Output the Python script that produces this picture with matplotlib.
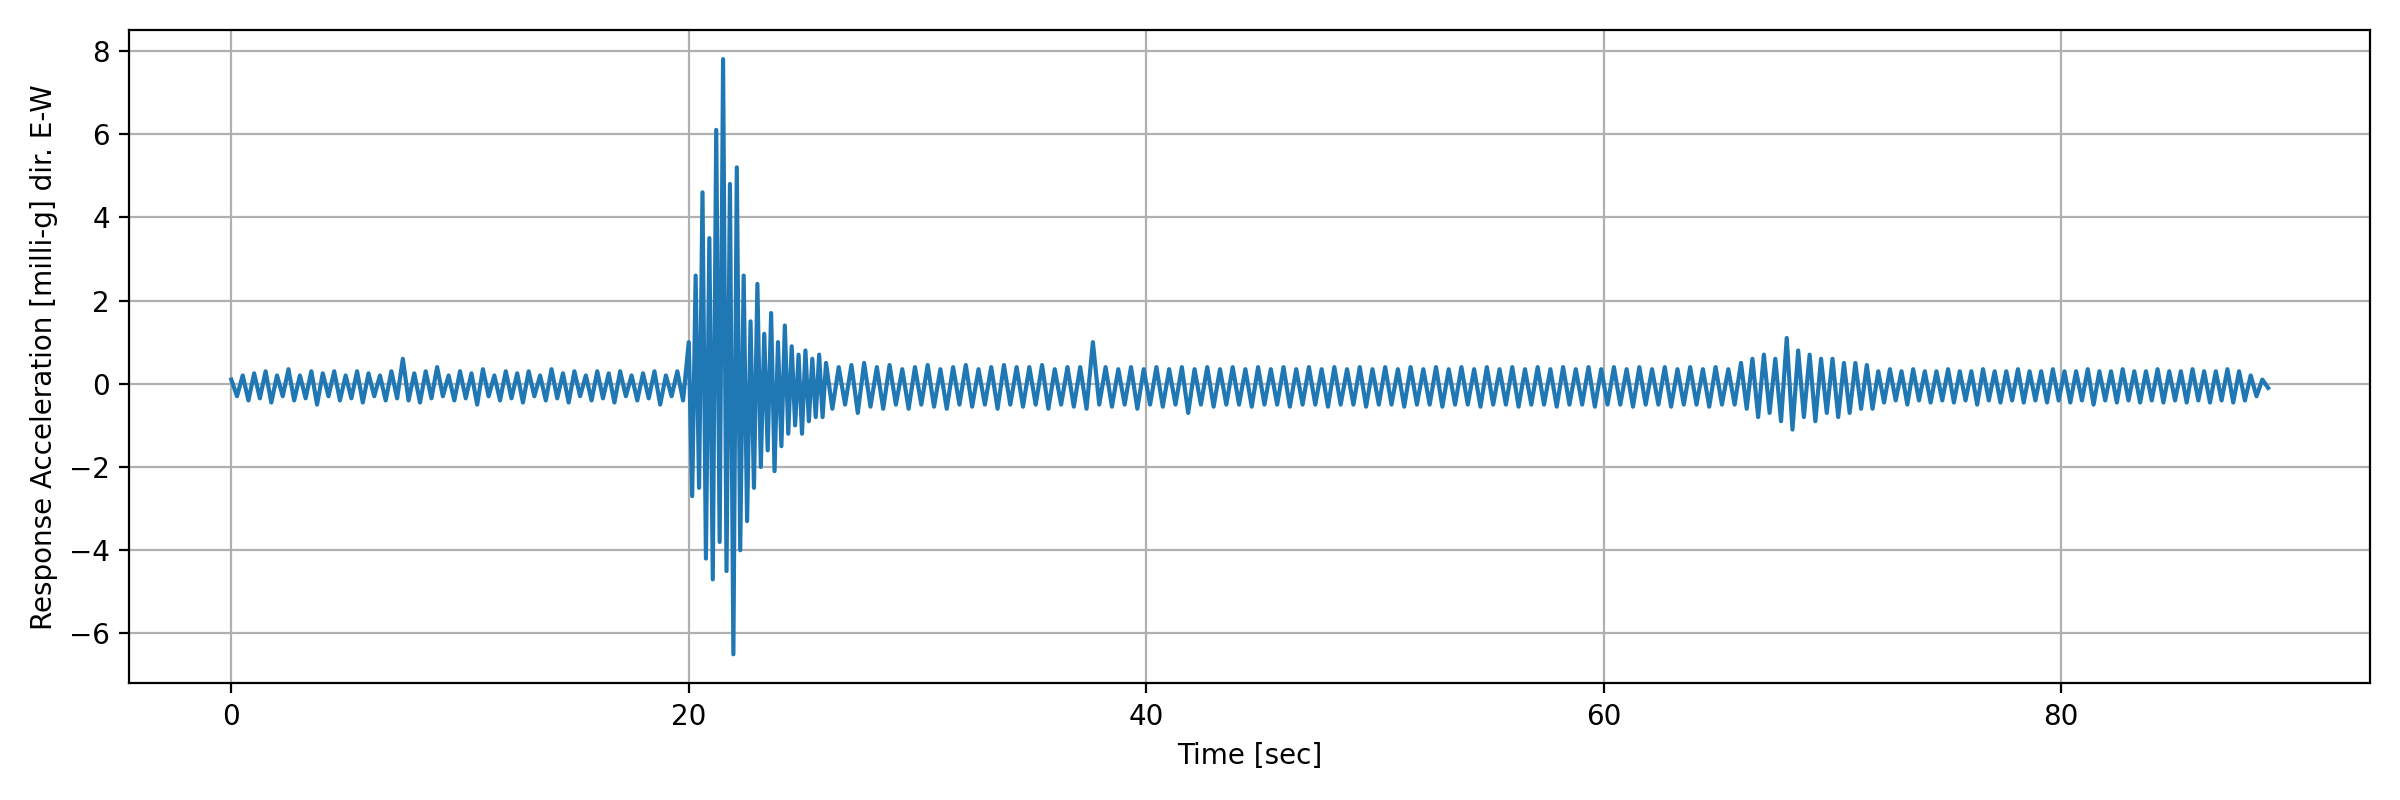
import numpy as np
import matplotlib
matplotlib.use("Agg")
import matplotlib.pyplot as plt

seg_quiet = [0.1,-0.3,0.2,-0.4,0.25,-0.35,0.3,-0.45,0.2,-0.3,
0.35,-0.4,0.2,-0.35,0.3,-0.5,0.25,-0.3,0.3,-0.4,
0.2,-0.35,0.3,-0.45,0.25,-0.3,0.2,-0.4,0.3,-0.35,
0.6,-0.4,0.25,-0.45,0.3,-0.35,0.4,-0.3,0.2,-0.4,
0.3,-0.35,0.25,-0.5,0.35,-0.3,0.2,-0.4,0.3,-0.35,
0.25,-0.45,0.3,-0.3,0.2,-0.4,0.35,-0.35,0.25,-0.45,
0.3,-0.3,0.2,-0.4,0.3,-0.35,0.25,-0.45,0.3,-0.3,
0.2,-0.4,0.25,-0.35,0.3,-0.5,0.2,-0.3,0.3,-0.4]
seg_quake = [1.0,-2.7,2.6,-2.5,4.6,-4.2,3.5,-4.7,6.1,-3.8,
7.8,-4.5,4.8,-6.5,5.2,-4.0,2.6,-3.3,1.5,-2.5,
2.4,-2.0,1.2,-1.6,1.7,-2.1,1.0,-1.5,1.4,-1.2,
0.9,-1.0,0.7,-1.2,0.8,-0.9,0.6,-0.8,0.7,-0.8]
seg_coda = [0.5,-0.6,0.4,-0.5,0.45,-0.7,0.5,-0.55,0.4,-0.6,
0.45,-0.5,0.35,-0.6,0.4,-0.5,0.45,-0.55,0.35,-0.6,
0.4,-0.5,0.45,-0.55,0.35,-0.5,0.4,-0.6,0.45,-0.5,
0.4,-0.55,0.4,-0.5,0.45,-0.6,0.35,-0.5,0.4,-0.55,
0.4,-0.6,1.0,-0.5,0.4,-0.55,0.35,-0.5,0.4,-0.6,
0.35,-0.5,0.4,-0.55,0.35,-0.5,0.4,-0.7,0.35,-0.5,
0.4,-0.55,0.35,-0.5,0.4,-0.5,0.35,-0.55,0.4,-0.5,
0.35,-0.5,0.4,-0.55,0.35,-0.5,0.4,-0.5,0.35,-0.55,
0.4,-0.5,0.35,-0.5,0.4,-0.55,0.35,-0.5,0.4,-0.5,
0.35,-0.55,0.4,-0.5,0.35,-0.5,0.4,-0.55,0.35,-0.5,
0.4,-0.5,0.35,-0.55,0.4,-0.5,0.35,-0.5,0.4,-0.55,
0.35,-0.5,0.4,-0.5,0.35,-0.55,0.4,-0.5,0.35,-0.5,
0.4,-0.55,0.35,-0.5,0.4,-0.5,0.35,-0.55,0.4,-0.5,
0.35,-0.5,0.4,-0.55,0.35,-0.5,0.4,-0.5,0.35,-0.55,
0.4,-0.5,0.35,-0.5]
seg_event2 = [0.5,-0.6,0.6,-0.8,0.7,-0.7,0.6,-0.9,1.1,-1.1,0.8,-0.8,
0.7,-0.9,0.6,-0.7,0.6,-0.8,0.5,-0.7,0.5,-0.6,0.45,-0.6]
seg_tail = [0.3,-0.45,0.35,-0.4,0.3,-0.5,0.35,-0.4,0.3,-0.45,
0.3,-0.4,0.35,-0.45,0.3,-0.4,0.3,-0.5,0.35,-0.4,
0.3,-0.45,0.3,-0.4,0.35,-0.45,0.3,-0.4,0.3,-0.45,
0.35,-0.4,0.3,-0.45,0.3,-0.4,0.35,-0.5,0.3,-0.4,
0.3,-0.45,0.35,-0.4,0.3,-0.45,0.3,-0.4,0.35,-0.45,
0.3,-0.4,0.3,-0.45,0.35,-0.4,0.3,-0.45,0.3,-0.4,
0.35,-0.45,0.3,-0.4,0.2,-0.3,0.1,-0.1]

segments = [seg_quiet, seg_quake, seg_coda, seg_event2, seg_tail]
seg_start = [0.0, 20.0, 26.0, 66.0, 72.0]
seg_end = [20.0, 26.0, 66.0, 72.0, 89.3]

t_parts, a_parts = [], []
for seg, s, e in zip(segments, seg_start, seg_end):
    n = len(seg)
    t_parts.append(s + np.arange(n) * (e - s) / n)
    a_parts.append(np.array(seg))
t = np.concatenate(t_parts)
acc = np.concatenate(a_parts)

fig, ax = plt.subplots(figsize=(12, 4), dpi=200)
ax.plot(t, acc, color="#1f77b4", linewidth=1.5)
ax.set_xlabel("Time [sec]")
ax.set_ylabel("Response Acceleration [milli-g] dir. E-W")
ax.set_yticks(np.arange(-6, 9, 2))
ax.set_ylim(-7.2, 8.5)
ax.grid(True)
fig.tight_layout()
fig.savefig("out.png")
